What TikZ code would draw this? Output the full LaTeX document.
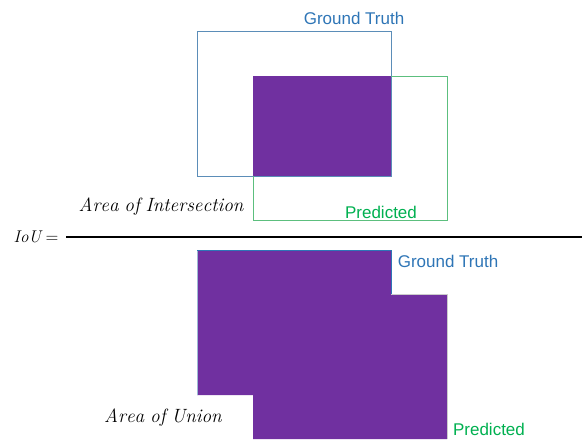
\documentclass[tikz,border=0pt]{standalone}
\usepackage{fontspec}
\usepackage{amsmath}
\setsansfont{Liberation Sans}
\usetikzlibrary{positioning}
\definecolor{iouPurple}{HTML}{7030A0}
\definecolor{gtBlue}{HTML}{2E75B6}
\definecolor{gtEdge}{HTML}{5B8DB8}
\definecolor{predGreen}{HTML}{00B050}
\definecolor{predEdge}{HTML}{5CBF7E}

\begin{document}
\begin{tikzpicture}[x=0.03cm, y=-0.03cm,
      gtbox/.style   = {draw=gtEdge, line width=0.8pt},
      predbox/.style = {draw=predEdge, line width=0.8pt},
      area/.style    = {fill=iouPurple},
      gtlabel/.style = {font=\sffamily\fontsize{14.5}{17}\selectfont, text=gtBlue, inner sep=0pt},
      predlabel/.style = {font=\sffamily\fontsize{14.5}{17}\selectfont, text=predGreen, inner sep=0pt},
      term/.style    = {font=\fontsize{16.4}{19}\selectfont, inner sep=0pt}
    ]
    \useasboundingbox (0,0) rectangle (582,439);

    % numerator: intersection
    \draw[gtbox]   (197,31) rectangle (391,176);
    \draw[predbox] (253,76) rectangle (447,220);
    \fill[area] (253,76) rectangle (391,176);
    \node[gtlabel]   (gtTop)   at (354,18)  {Ground Truth};
    \node[predlabel] (predTop) at (381,212) {Predicted};
    \node[term] (inter) at (161,207) {$\mathit{Area\ of\ Intersection}$};

    % fraction
    \node[term, font=\fontsize{14.5}{17}\selectfont] (iou) at (36,237) {$\mathit{IoU} =$};
    \coordinate (barL) at (66,237);
    \coordinate (barR) at (582,237);
    \draw[line width=0.9pt] (barL) -- (barR);

    % denominator: union
    \fill[area] (197,250) -- (391,250) -- (391,294) -- (447,294) -- (447,439)
                -- (253,439) -- (253,395) -- (197,395) -- cycle;
    \draw[gtEdge!60, line width=0.5pt] (197,395) -- (197,250);
    \draw[gtBlue, line width=0.8pt] (197,250) -- (391,250) -- (391,294);
    \draw[gray!40, line width=0.5pt] (391,294) -- (447,294) -- (447,439);
    \node[gtlabel]   (gtBot)   at (448,261) {Ground Truth};
    \node[predlabel] (predBot) at (489,429) {Predicted};
    \node[term] (union) at (163,418) {$\mathit{Area\ of\ Union}$};
  \end{tikzpicture}
\end{document}
